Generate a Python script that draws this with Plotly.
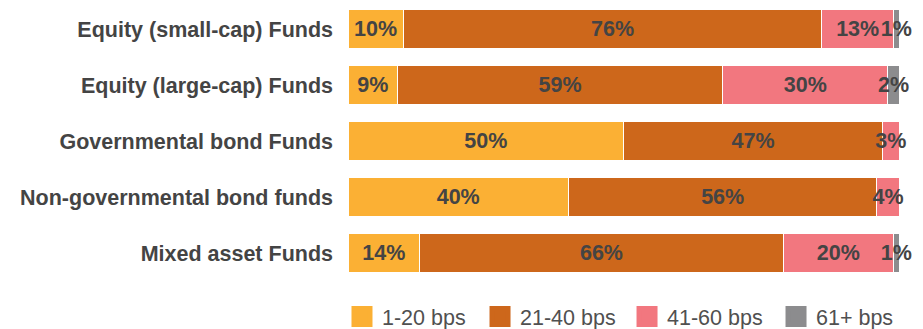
import plotly.graph_objects as go

# Dados do gráfico
fundos = ["Equity (small-cap) Funds", "Equity (large-cap) Funds", "Governmental bond Funds",
          "Non-governmental bond funds", "Mixed asset Funds"]
faixas = ["1-20 bps", "21-40 bps", "41-60 bps", "61+ bps"]

bps_1_20 = [10, 9, 50, 40, 13]
bps_21_40 = [76, 59, 47, 56, 66]
bps_41_60 = [13, 30, 3, 4, 20]
bps_61_mais = [1, 2, 0, 0, 1]

# rótulos como aparecem no gráfico
rotulos_1_20 = ["10%", "9%", "50%", "40%", "14%"]
rotulos_21_40 = ["76%", "59%", "47%", "56%", "66%"]
rotulos_41_60 = ["13%", "30%", "3%", "4%", "20%"]
rotulos_61_mais = ["1%", "2%", "", "", "1%"]

cores = ["#FBB034", "#CD671B", "#F2777F", "#8C8C8E"]
series = [bps_1_20, bps_21_40, bps_41_60, bps_61_mais]
rotulos = [rotulos_1_20, rotulos_21_40, rotulos_41_60, rotulos_61_mais]

# posição de cada item da legenda (uma legenda por faixa)
legenda_x = [-0.0109, 0.2396, 0.5064, 0.7768]
nomes_legenda = ["legend", "legend2", "legend3", "legend4"]

fig = go.Figure()

for nome, valores, textos, cor, leg in zip(faixas, series, rotulos, cores, nomes_legenda):
    fig.add_trace(go.Bar(
        y=fundos, x=valores, orientation="h", name=nome,
        marker=dict(color=cor, line=dict(color="white", width=1)),
        text=textos, textposition="inside", insidetextanchor="middle", textangle=0,
        textfont=dict(family="Liberation Sans", size=21.5, color="#444444", weight="bold"),
        cliponaxis=False, showlegend=False,
    ))
    # entrada de legenda com quadrado maior (linha da mesma cor aumenta o quadrado)
    fig.add_trace(go.Scatter(
        x=[None], y=[None], mode="markers", name=nome, legend=leg,
        marker=dict(symbol="square", size=16, color=cor, line=dict(color=cor, width=5)),
    ))

fig.update_layout(
    barmode="stack",
    bargap=0.286,
    width=915, height=329,
    margin=dict(l=340, r=24, t=0, b=56),
    plot_bgcolor="white", paper_bgcolor="white",
    font=dict(family="Liberation Sans", size=21.5, color="#444444"),
    uniformtext=dict(minsize=21.5, mode="show"),
    xaxis=dict(range=[0, 100], visible=False, fixedrange=True),
    yaxis=dict(range=[4.5, -0.375], showgrid=False, showline=False, ticks="",
               ticklabelstandoff=14, fixedrange=True,
               tickfont=dict(family="Liberation Sans", size=21.5, color="#444444", weight="bold")),
)

for leg, x in zip(nomes_legenda, legenda_x):
    fig.update_layout({leg: dict(orientation="h", x=x, xanchor="left", y=-0.132, yanchor="middle",
                                 font=dict(family="Liberation Sans", size=21.5, color="#505050"),
                                 bgcolor="rgba(0,0,0,0)", borderwidth=0)})

fig.write_html("out.html")
